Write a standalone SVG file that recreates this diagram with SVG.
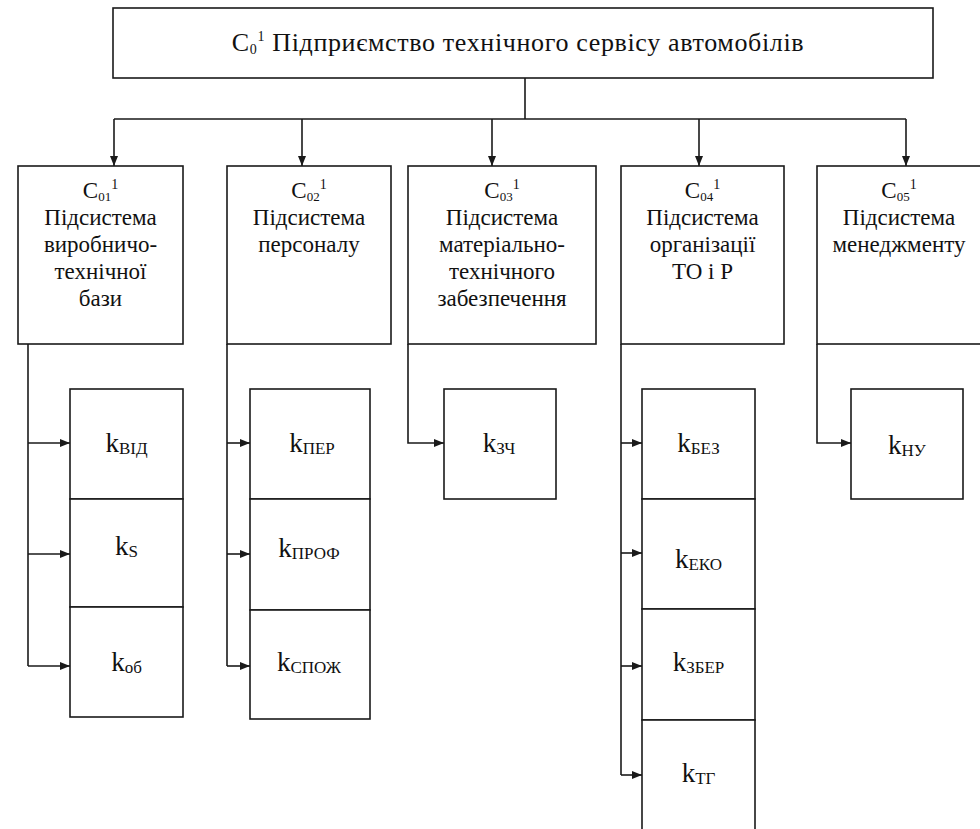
<svg xmlns="http://www.w3.org/2000/svg" width="980" height="829" viewBox="0 0 980 829">
<defs>
<marker id="arr" viewBox="0 0 10 8" refX="10" refY="4" markerWidth="10" markerHeight="8" markerUnits="userSpaceOnUse" orient="auto">
<path d="M0,0 L10,4 L0,8 z" fill="#1a1a1a"/>
</marker>
</defs>

<g id="connectors" fill="none" stroke="#1a1a1a" stroke-width="1.6">
<path d="M525,78 V119 M114,119 H906"/>
<path marker-end="url(#arr)" d="M114,119 V166"/>
<path marker-end="url(#arr)" d="M302,119 V166"/>
<path marker-end="url(#arr)" d="M492,119 V166"/>
<path marker-end="url(#arr)" d="M699,119 V166"/>
<path marker-end="url(#arr)" d="M906,119 V166"/>
<path d="M28,344 V666"/>
<path marker-end="url(#arr)" d="M28,443 H70"/>
<path marker-end="url(#arr)" d="M28,554 H70"/>
<path marker-end="url(#arr)" d="M28,666 H70"/>
<path d="M227,344 V666"/>
<path marker-end="url(#arr)" d="M227,443 H250"/>
<path marker-end="url(#arr)" d="M227,554 H250"/>
<path marker-end="url(#arr)" d="M227,666 H250"/>
<path marker-end="url(#arr)" d="M408,344 V443 H444"/>
<path d="M621,344 V775"/>
<path marker-end="url(#arr)" d="M621,443 H642"/>
<path marker-end="url(#arr)" d="M621,553 H642"/>
<path marker-end="url(#arr)" d="M621,666 H642"/>
<path marker-end="url(#arr)" d="M621,775 H642"/>
<path marker-end="url(#arr)" d="M817,344 V443 H851"/>
</g>

<g id="root" fill="#fff" stroke="#1a1a1a" stroke-width="1.6">
<rect x="113" y="8" width="820" height="70"/>
<text font-family="Liberation Serif" font-size="26" letter-spacing="0.65" fill="#111" stroke="none" text-anchor="middle" x="518" y="51">C<tspan font-size="14" dy="3">0</tspan><tspan font-size="14" dy="-13">1</tspan><tspan dy="10"> Підприємство технічного сервісу автомобілів</tspan></text>
</g>

<g id="c01">
<rect x="18" y="166" width="165" height="178" fill="#fff" stroke="#1a1a1a" stroke-width="1.6"/>
<g fill="#111" font-size="23" text-anchor="middle">
<text font-family="Liberation Serif" x="100.5" y="198">C<tspan font-size="13" dy="3">01</tspan><tspan font-size="14" dy="-12">1</tspan></text>
<text font-family="Liberation Serif" x="100.5" y="225">Підсистема</text>
<text font-family="Liberation Serif" x="100.5" y="252">виробничо-</text>
<text font-family="Liberation Serif" x="100.5" y="279">технічної</text>
<text font-family="Liberation Serif" x="100.5" y="306">бази</text>
</g>
</g>
<g id="c02">
<rect x="227" y="166" width="164" height="178" fill="#fff" stroke="#1a1a1a" stroke-width="1.6"/>
<g fill="#111" font-size="23" text-anchor="middle">
<text font-family="Liberation Serif" x="309" y="198">C<tspan font-size="13" dy="3">02</tspan><tspan font-size="14" dy="-12">1</tspan></text>
<text font-family="Liberation Serif" x="309" y="225">Підсистема</text>
<text font-family="Liberation Serif" x="309" y="252">персоналу</text>
</g>
</g>
<g id="c03">
<rect x="408" y="166" width="188" height="178" fill="#fff" stroke="#1a1a1a" stroke-width="1.6"/>
<g fill="#111" font-size="23" text-anchor="middle">
<text font-family="Liberation Serif" x="502" y="198">C<tspan font-size="13" dy="3">03</tspan><tspan font-size="14" dy="-12">1</tspan></text>
<text font-family="Liberation Serif" x="502" y="225">Підсистема</text>
<text font-family="Liberation Serif" x="502" y="252">матеріально-</text>
<text font-family="Liberation Serif" x="502" y="279">технічного</text>
<text font-family="Liberation Serif" x="502" y="306">забезпечення</text>
</g>
</g>
<g id="c04">
<rect x="621" y="166" width="163" height="178" fill="#fff" stroke="#1a1a1a" stroke-width="1.6"/>
<g fill="#111" font-size="23" text-anchor="middle">
<text font-family="Liberation Serif" x="702.5" y="198">C<tspan font-size="13" dy="3">04</tspan><tspan font-size="14" dy="-12">1</tspan></text>
<text font-family="Liberation Serif" x="702.5" y="225">Підсистема</text>
<text font-family="Liberation Serif" x="702.5" y="252">організації</text>
<text font-family="Liberation Serif" x="702.5" y="279">ТО і Р</text>
</g>
</g>
<g id="c05">
<rect x="817" y="166" width="166" height="178" fill="#fff" stroke="#1a1a1a" stroke-width="1.6"/>
<g fill="#111" font-size="23" text-anchor="middle">
<text font-family="Liberation Serif" x="899" y="198">C<tspan font-size="13" dy="3">05</tspan><tspan font-size="14" dy="-12">1</tspan></text>
<text font-family="Liberation Serif" x="899" y="225">Підсистема</text>
<text font-family="Liberation Serif" x="899" y="252">менеджменту</text>
</g>
</g>

<g id="k-boxes" fill="#fff" stroke="#1a1a1a" stroke-width="1.6">
<rect id="k-vid" x="70" y="389" width="113" height="110"/>
<rect id="k-s" x="70" y="499" width="113" height="108"/>
<rect id="k-ob" x="70" y="607" width="113" height="110"/>
<rect id="k-per" x="250" y="389" width="120" height="110"/>
<rect id="k-prof" x="250" y="499" width="120" height="111"/>
<rect id="k-spozh" x="250" y="610" width="120" height="109"/>
<rect id="k-zch" x="444" y="389" width="112" height="110"/>
<rect id="k-bez" x="642" y="389" width="113" height="110"/>
<rect id="k-eko" x="642" y="499" width="113" height="110"/>
<rect id="k-zber" x="642" y="609" width="113" height="111"/>
<rect id="k-tg" x="642" y="720" width="113" height="120"/>
<rect id="k-nu" x="851" y="389" width="112" height="110"/>
</g>
<g id="k-labels" fill="#111" font-size="27" text-anchor="middle">
<text font-family="Liberation Serif" x="126.5" y="452">k<tspan font-size="17" dy="2">ВІД</tspan></text>
<text font-family="Liberation Serif" x="126.5" y="555">k<tspan font-size="17" dy="2">S</tspan></text>
<text font-family="Liberation Serif" x="126.5" y="671">k<tspan font-size="17" dy="2">об</tspan></text>
<text font-family="Liberation Serif" x="312" y="452">k<tspan font-size="17" dy="2">ПЕР</tspan></text>
<text font-family="Liberation Serif" x="309" y="557">k<tspan font-size="17" dy="2">ПРОФ</tspan></text>
<text font-family="Liberation Serif" x="309" y="671">k<tspan font-size="17" dy="2">СПОЖ</tspan></text>
<text font-family="Liberation Serif" x="499" y="452">k<tspan font-size="17" dy="2">ЗЧ</tspan></text>
<text font-family="Liberation Serif" x="698.5" y="452">k<tspan font-size="17" dy="2">БЕЗ</tspan></text>
<text font-family="Liberation Serif" x="698.5" y="568">k<tspan font-size="17" dy="2">ЕКО</tspan></text>
<text font-family="Liberation Serif" x="698.5" y="671">k<tspan font-size="17" dy="2">ЗБЕР</tspan></text>
<text font-family="Liberation Serif" x="698.5" y="782">k<tspan font-size="17" dy="2">ТГ</tspan></text>
<text font-family="Liberation Serif" x="907" y="454">k<tspan font-size="17" dy="2">НУ</tspan></text>
</g>
</svg>
